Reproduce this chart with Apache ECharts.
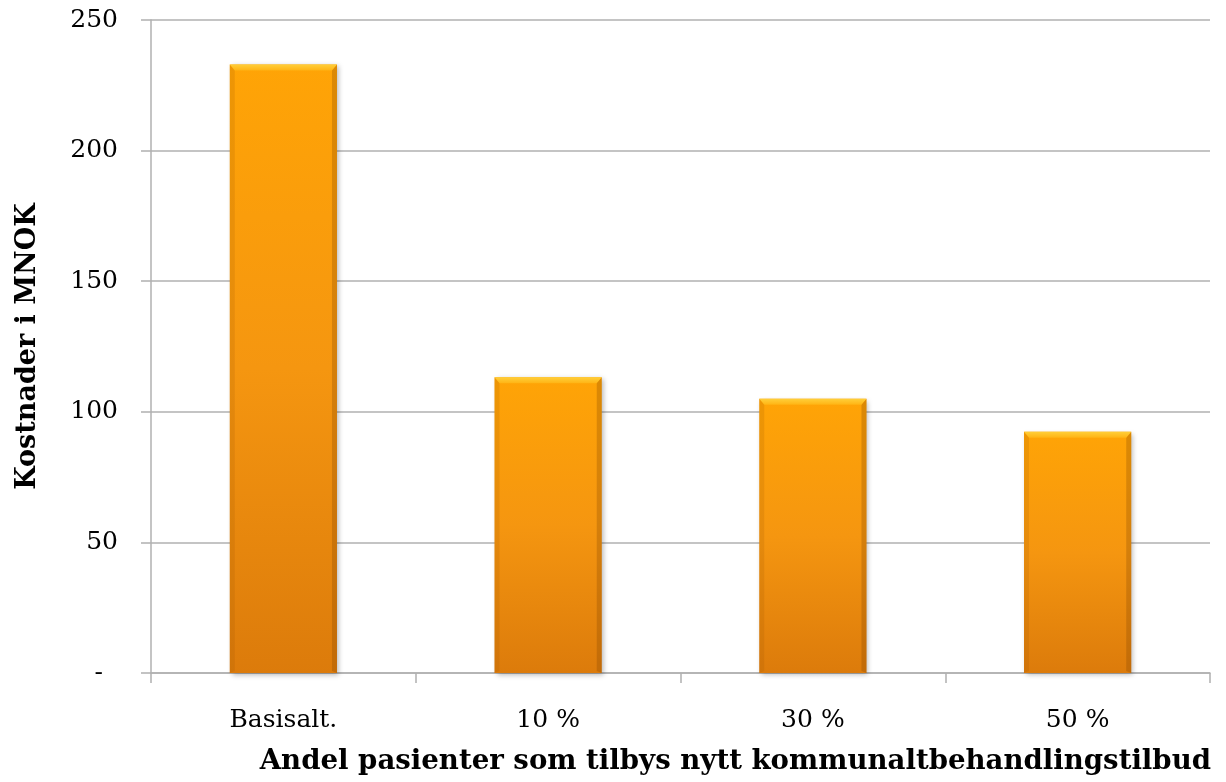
<!DOCTYPE html>
<html>
<head>
<meta charset="utf-8">
<script src="https://cdn.jsdelivr.net/npm/echarts@6/dist/echarts.min.js"></script>
<style>
  html, body { margin: 0; padding: 0; background: #fff; }
  #chart { width: 1226px; height: 782px; }
</style>
</head>
<body>
<div id="chart"></div>
<script>
// Cost per scenario (MNOK)
const categories = ['Basisalt.', '10 %', '30 %', '50 %'];
const costs = [233, 113.2, 105, 92.4];
const yTicks = [0, 50, 100, 150, 200, 250];

const FONT = '"DejaVu Serif", "Liberation Serif", serif';

const chart = echarts.init(document.getElementById('chart'));

// Bevelled bar: body gradient, a light top bevel and darker side edges
function renderBar(params, api) {
  const idx = api.value(0);
  const val = api.value(1);
  const base = api.coord([idx, 0]);
  const top = api.coord([idx, val]);
  const w = api.size([1, 0])[0] * 0.405;
  const x = base[0] - w / 2;
  const y = top[1];
  const h = base[1] - top[1];
  const b = 5;
  return {
    type: 'group',
    children: [
      {
        type: 'rect',
        shape: { x: x, y: y, width: w, height: h },
        style: {
          fill: new echarts.graphic.LinearGradient(0, 0, 0, 1, [
            { offset: 0, color: '#ffa406' },
            { offset: 0.5, color: '#f59610' },
            { offset: 1, color: '#dc7b0b' }
          ]),
          shadowBlur: 5,
          shadowOffsetX: 2,
          shadowOffsetY: 2,
          shadowColor: 'rgba(0,0,0,0.28)'
        }
      },
      {
        type: 'polygon',
        shape: { points: [[x, y + h], [x, y], [x + b, y + b], [x + b, y + h - 2]] },
        style: { fill: 'rgba(150,80,0,0.16)' }
      },
      {
        type: 'polygon',
        shape: { points: [[x + w, y + h], [x + w, y], [x + w - b, y + b], [x + w - b, y + h - 2]] },
        style: { fill: 'rgba(120,60,0,0.26)' }
      },
      {
        type: 'polygon',
        shape: { points: [[x, y], [x + w, y], [x + w - b, y + b + 1], [x + b, y + b + 1]] },
        style: {
          fill: new echarts.graphic.LinearGradient(0, 0, 0, 1, [
            { offset: 0, color: '#ffcf3a' },
            { offset: 1, color: '#ffb414' }
          ])
        }
      }
    ]
  };
}

chart.setOption({
  animation: false,
  backgroundColor: '#ffffff',
  title: {
    text: 'Andel pasienter som tilbys nytt kommunaltbehandlingstilbud',
    right: 10,
    bottom: 1,
    textStyle: { fontFamily: FONT, fontSize: 27.6, fontWeight: 'bold', color: '#000' }
  },
  grid: { left: 151, right: 16, top: 20, bottom: 109, containLabel: false },
  xAxis: {
    type: 'category',
    data: categories,
    boundaryGap: true,
    axisLine: { show: true, lineStyle: { color: '#b0b0b0', width: 1.5 } },
    axisTick: { show: true, length: 10, alignWithLabel: false, lineStyle: { color: '#b0b0b0', width: 1.5 } },
    axisLabel: { margin: 35, fontFamily: FONT, fontSize: 25, color: '#000' },
    splitLine: { show: false }
  },
  yAxis: {
    type: 'value',
    min: 0,
    max: 250,
    interval: 50,
    name: 'Kostnader i MNOK',
    nameLocation: 'middle',
    nameGap: 110,
    nameTextStyle: { fontFamily: FONT, fontSize: 27, fontWeight: 'bold', color: '#000' },
    axisLine: { show: true, lineStyle: { color: '#b0b0b0', width: 1.5 } },
    axisTick: { show: true, length: 10, lineStyle: { color: '#b0b0b0', width: 1.5 } },
    splitLine: { show: true, lineStyle: { color: '#b0b0b0', width: 1.5 } },
    axisLabel: {
      margin: 33,
      fontFamily: FONT,
      fontSize: 25,
      color: '#000',
      formatter: function (v) {
        return yTicks.indexOf(v) === 0 ? '{d|-}' : String(v);
      },
      rich: { d: { fontFamily: FONT, fontSize: 25, color: '#000', padding: [0, 15, 0, 0] } }
    }
  },
  series: [{
    type: 'custom',
    renderItem: renderBar,
    encode: { x: 0, y: 1 },
    data: costs.map((v, i) => [i, v]),
    z: 3
  }]
});
</script>
</body>
</html>
